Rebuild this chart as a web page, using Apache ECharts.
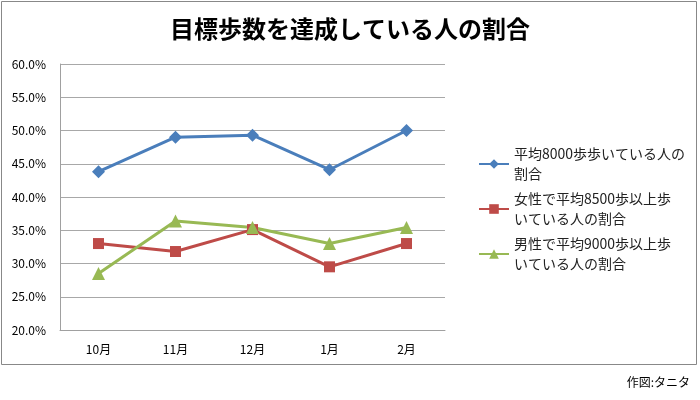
<!DOCTYPE html>
<html><head><meta charset="utf-8">
<script src="https://cdn.jsdelivr.net/npm/echarts@6/dist/echarts.min.js"></script>
<style>html,body{margin:0;padding:0;background:#fff}#c{width:700px;height:400px}</style>
</head><body><div id="c"></div>
<script>
var categories = ['10月', '11月', '12月', '1月', '2月'];
var seriesNames = ['平均8000歩歩いている人の\n割合', '女性で平均8500歩以上歩\nいている人の割合', '男性で平均9000歩以上歩\nいている人の割合'];
var avg8000 = [43.8, 49.0, 49.3, 44.1, 50.0];
var female8500 = [33.0, 31.8, 35.1, 29.5, 33.0];
var male9000 = [28.5, 36.4, 35.4, 33.0, 35.4];
var yTicks = {min: 20, max: 60, interval: 5};

var font = '"Noto Sans CJK JP", "Noto Sans", sans-serif';
var chart = echarts.init(document.getElementById('c'), null, {renderer: 'canvas'});
chart.setOption({
  animation: false,
  backgroundColor: '#fff',
  title: {
    text: '目標歩数を達成している人の割合',
    left: 'center', top: 12,
    textStyle: {fontFamily: font, fontSize: 24, fontWeight: 'bold', color: '#000'}
  },
  graphic: [
    {type: 'rect', shape: {x: 1.5, y: 1.5, width: 695, height: 363}, style: {fill: 'none', stroke: '#888', lineWidth: 1}, z: -1},
    {type: 'text', right: 10, top: 376, style: {text: '作図:タニタ', font: '12px ' + font, fill: '#000'}}
  ],
  legend: {
    orient: 'vertical',
    left: 478, top: 134, padding: 0,
    itemWidth: 30, itemHeight: 12,
    itemGap: -15,
    textStyle: {fontFamily: font, fontSize: 14, color: '#222', lineHeight: 20, padding: [20, 0, 0, 0]},
    data: seriesNames
  },
  grid: {left: 60, right: 255, top: 64, bottom: 70, containLabel: false},
  xAxis: {
    type: 'category', data: categories, boundaryGap: true,
    axisLine: {lineStyle: {color: '#a0a0a0', width: 1}},
    axisTick: {show: false},
    axisLabel: {fontFamily: font, fontSize: 12, color: '#000', margin: 13}
  },
  yAxis: {
    type: 'value', min: yTicks.min, max: yTicks.max, interval: yTicks.interval,
    axisLine: {show: true, lineStyle: {color: '#a0a0a0', width: 1}},
    axisTick: {show: false},
    splitLine: {lineStyle: {color: '#a8a8a8', width: 1}},
    axisLabel: {fontFamily: font, fontSize: 12, color: '#000', margin: 14,
      formatter: function (v) { return v.toFixed(1) + '%'; }}
  },
  series: [
    {name: seriesNames[0], type: 'line', data: avg8000, symbol: 'diamond', symbolSize: 13,
      lineStyle: {color: '#4a7ebb', width: 3}, itemStyle: {color: '#4a7ebb'}},
    {name: seriesNames[1], type: 'line', data: female8500, symbol: 'rect', symbolSize: 11,
      lineStyle: {color: '#be4b48', width: 3}, itemStyle: {color: '#be4b48'}},
    {name: seriesNames[2], type: 'line', data: male9000, symbol: 'triangle', symbolSize: 13,
      lineStyle: {color: '#98b954', width: 3}, itemStyle: {color: '#98b954'}}
  ]
});
</script></body></html>
